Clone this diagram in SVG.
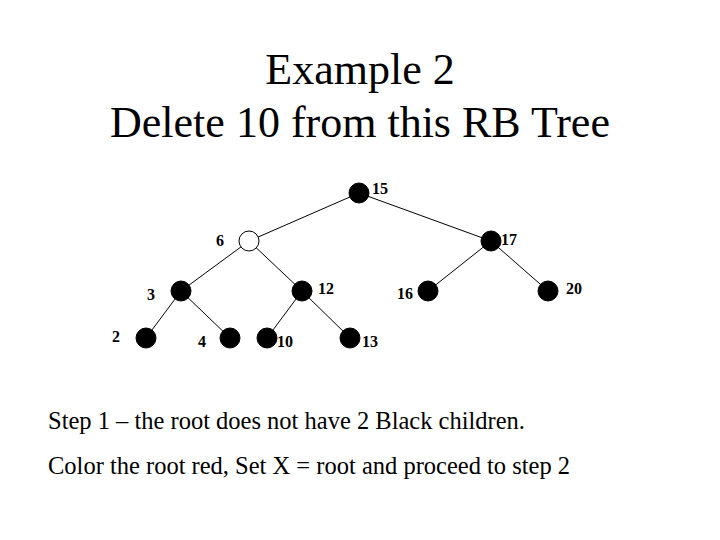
<svg xmlns="http://www.w3.org/2000/svg" width="720" height="540" viewBox="0 0 720 540">
<style>
.t{font-family:"Liberation Serif",serif;fill:#000}
.l{font-family:"Liberation Serif",serif;font-weight:bold;font-size:16px}
.n{fill:#000;stroke:#000;stroke-width:1}
.w{fill:#fff;stroke:#000;stroke-width:1}
line{stroke:#000;stroke-width:1}
</style>
<rect width="720" height="540" fill="#fff"/>
<text class="t" x="360" y="84" font-size="44" text-anchor="middle">Example 2</text>
<text class="t" x="360" y="137" font-size="44" text-anchor="middle">Delete 10 from this RB Tree</text>
<g id="edges">
<line x1="359" y1="193" x2="249" y2="241"/><line x1="359" y1="193" x2="491" y2="241"/>
<line x1="249" y1="241" x2="181" y2="291"/><line x1="249" y1="241" x2="302" y2="291"/>
<line x1="491" y1="241" x2="428" y2="291"/><line x1="491" y1="241" x2="548" y2="291"/>
<line x1="181" y1="291" x2="146" y2="338"/><line x1="181" y1="291" x2="230" y2="338"/>
<line x1="302" y1="291" x2="267" y2="338"/><line x1="302" y1="291" x2="350" y2="338"/>
</g>
<g id="n15"><circle class="n" cx="359" cy="193" r="10"/><text class="l" x="372" y="194">15</text></g>
<g id="n6"><circle class="w" cx="249" cy="241" r="10"/><text class="l" x="216" y="246">6</text></g>
<g id="n17"><circle class="n" cx="491" cy="241" r="10"/><text class="l" x="501" y="245">17</text></g>
<g id="n3"><circle class="n" cx="181" cy="291" r="10"/><text class="l" x="147" y="300">3</text></g>
<g id="n12"><circle class="n" cx="302" cy="291" r="10"/><text class="l" x="318" y="294">12</text></g>
<g id="n16"><circle class="n" cx="428" cy="291" r="10"/><text class="l" x="397" y="299">16</text></g>
<g id="n20"><circle class="n" cx="548" cy="291" r="10"/><text class="l" x="566" y="294">20</text></g>
<g id="n2"><circle class="n" cx="146" cy="338" r="10"/><text class="l" x="112" y="342">2</text></g>
<g id="n4"><circle class="n" cx="230" cy="338" r="10"/><text class="l" x="198" y="347">4</text></g>
<g id="n10"><circle class="n" cx="267" cy="338" r="10"/><text class="l" x="277" y="347">10</text></g>
<g id="n13"><circle class="n" cx="350" cy="338" r="10"/><text class="l" x="362" y="347">13</text></g>
<text class="t" x="48" y="429" font-size="24.5">Step 1 – the root does not have 2 Black children.</text>
<text class="t" x="48" y="474" font-size="24.5">Color the root red, Set X = root and proceed to step 2</text>
</svg>
